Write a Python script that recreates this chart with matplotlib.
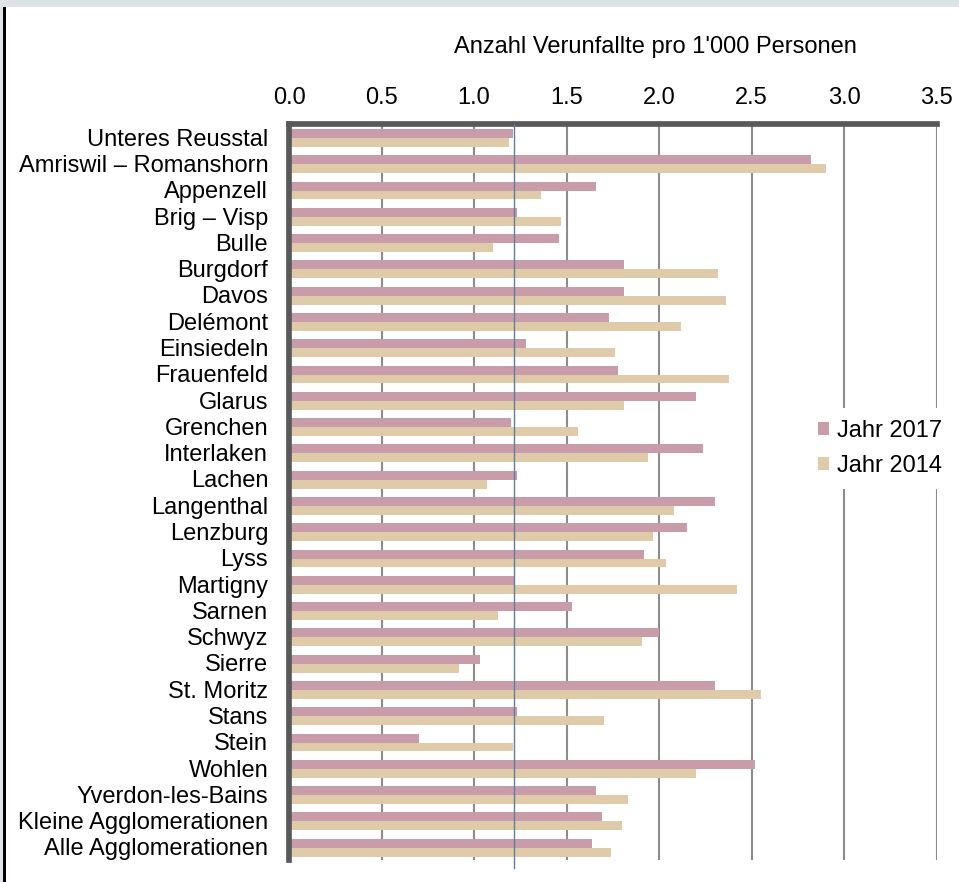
import numpy as np
import matplotlib
matplotlib.use("Agg")
import matplotlib.pyplot as plt
from matplotlib.patches import Rectangle

# ---------------------------------------------------------
# Daten
# ---------------------------------------------------------
regionen = [
    "Unteres Reusstal", "Amriswil – Romanshorn", "Appenzell", "Brig – Visp",
    "Bulle", "Burgdorf", "Davos", "Delémont", "Einsiedeln", "Frauenfeld",
    "Glarus", "Grenchen", "Interlaken", "Lachen", "Langenthal", "Lenzburg",
    "Lyss", "Martigny", "Sarnen", "Schwyz", "Sierre", "St. Moritz", "Stans",
    "Stein", "Wohlen", "Yverdon-les-Bains", "Kleine Agglomerationen",
    "Alle Agglomerationen",
]

jahr_2017 = [1.21, 2.82, 1.66, 1.23, 1.46, 1.81, 1.81, 1.73, 1.28, 1.78,
             2.20, 1.20, 2.24, 1.23, 2.30, 2.15, 1.92, 1.22, 1.53, 2.00,
             1.03, 2.30, 1.23, 0.70, 2.52, 1.66, 1.69, 1.64]
jahr_2014 = [1.19, 2.90, 1.36, 1.47, 1.10, 2.32, 2.36, 2.12, 1.76, 2.38,
             1.81, 1.56, 1.94, 1.07, 2.08, 1.97, 2.04, 2.42, 1.13, 1.91,
             0.92, 2.55, 1.70, 1.21, 2.20, 1.83, 1.80, 1.74]
referenz = 1.215

x_ticks = [0.0, 0.5, 1.0, 1.5, 2.0, 2.5, 3.0, 3.5]
x_ticklabels = ["0.0", "0.5", "1.0", "1.5", "2.0", "2.5", "3.0", "3.5"]
titel = "Anzahl Verunfallte pro 1'000 Personen"

# ---------------------------------------------------------
# Stil
# ---------------------------------------------------------
plt.rcParams['font.family'] = ['Liberation Sans', 'DejaVu Sans']
FS = 17
c17 = "#c99caa"
c14 = "#dfcbaa"
achse = "#595959"
gitter = "#8c8c8c"

W, H = 959, 882
fig = plt.figure(figsize=(W / 100, H / 100), dpi=100)

# Rahmen oben / links
fig.patches.append(Rectangle((0, 1 - 7 / H), 1, 7 / H, transform=fig.transFigure,
                             facecolor="#dde4e7", edgecolor="none", zorder=0))
fig.patches.append(Rectangle((0, 0), 3 / W, 1, transform=fig.transFigure,
                             facecolor="#dde4e7", edgecolor="none", zorder=0))
fig.patches.append(Rectangle((3 / W, 0), 2.5 / W, 1 - 7 / H, transform=fig.transFigure,
                             facecolor="black", edgecolor="none", zorder=1))

ax_l, ax_r, ax_t, ax_b = 289, 936.5, 124, 860
ax = fig.add_axes([ax_l / W, 1 - ax_b / H, (ax_r - ax_l) / W, (ax_b - ax_t) / H])

y = np.arange(len(regionen))
ax.barh(y - 0.14, jahr_2017, height=0.345, color=c17, label="Jahr 2017", zorder=2)
ax.barh(y + 0.20, jahr_2014, height=0.34, color=c14, label="Jahr 2014", zorder=2)

# Referenzlinie
ax.plot([referenz, referenz], [-0.5, len(regionen) - 0.5 + 0.3], color="#5f7f96",
        lw=1.0, zorder=3, clip_on=False)

ax.set_xlim(0, 3.5)
ax.set_ylim(len(regionen) - 0.5, -0.5)

ax.xaxis.tick_top()
ax.set_xticks(x_ticks)
ax.set_xticklabels(x_ticklabels, fontsize=FS)
ax.set_yticks(y)
ax.set_yticklabels(regionen, fontsize=FS)
ax.tick_params(axis='x', length=0, pad=11)
ax.tick_params(axis='y', length=0, pad=15)

ax.grid(axis='x', color=gitter, lw=1.5)
ax.set_axisbelow(True)

for s in ["right", "bottom"]:
    ax.spines[s].set_visible(False)
for s in ["top", "left"]:
    ax.spines[s].set_color(achse)
    ax.spines[s].set_linewidth(4.1)

fig.text(655.5 / W, 1 - 47 / H, titel, fontsize=FS, ha='center', va='center')

leg = ax.legend(loc='center left', bbox_to_anchor=(806 / W, 1 - 448.5 / H),
                bbox_transform=fig.transFigure, fontsize=FS, frameon=True,
                fancybox=False, borderaxespad=0, borderpad=0.5,
                handlelength=0.47, handleheight=0.47, handletextpad=0.35,
                labelspacing=0.55)
leg.get_frame().set_facecolor("white")
leg.get_frame().set_edgecolor("none")
leg.get_frame().set_alpha(1)

fig.savefig("out.png", dpi=100)
